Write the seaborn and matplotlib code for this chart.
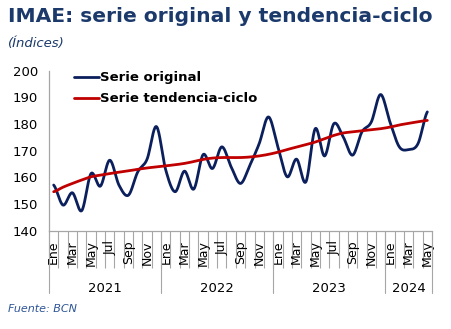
import numpy as np
import matplotlib
matplotlib.use("Agg")
import matplotlib.pyplot as plt
import seaborn as sns
from matplotlib.transforms import blended_transform_factory

# ---------------- data ----------------
months = ["Ene", "Feb", "Mar", "Abr", "May", "Jun",
          "Jul", "Ago", "Sep", "Oct", "Nov", "Dic"]
years = ["2021", "2022", "2023", "2024"]
months_per_year = [12, 12, 12, 5]

original = [157.1, 149.6, 154.2, 147.5, 161.4, 156.7, 166.4, 157.0, 153.3, 162.0, 166.8, 179.0,
            162.7, 154.6, 162.3, 155.6, 168.5, 163.3, 171.4, 163.9, 157.7, 164.5, 172.6, 182.6,
            171.4, 160.2, 166.8, 158.3, 178.2, 168.0, 180.1, 175.1, 168.3, 177.0, 180.7, 191.0,
            180.7, 171.4, 170.4, 172.6, 184.5]
trend = [154.6, 156.3, 157.7, 159.0, 160.2, 160.8, 161.4, 161.9, 162.4, 163.0, 163.5, 163.9,
         164.3, 164.7, 165.2, 165.9, 166.7, 167.2, 167.4, 167.4, 167.4, 167.6, 168.0, 168.6,
         169.4, 170.4, 171.3, 172.2, 173.2, 174.5, 175.7, 176.6, 177.0, 177.4, 177.8, 178.2,
         178.8, 179.6, 180.2, 180.8, 181.3]
yticks = [140, 150, 160, 170, 180, 190, 200]

title = "IMAE: serie original y tendencia-ciclo"
subtitle = "(Índices)"
source = "Fuente: BCN"
label_orig = "Serie original"
label_trend = "Serie tendencia-ciclo"

# ---------------- helpers ----------------
def smooth(vals, n=20):
    """Excel-like smoothed line (uniform Catmull-Rom) through the points."""
    y = np.asarray(vals, dtype=float)
    p = np.concatenate([[y[0]], y, [y[-1]]])
    xs, ys = [], []
    t = np.linspace(0, 1, n, endpoint=False)
    for i in range(len(y) - 1):
        p0, p1, p2, p3 = p[i], p[i + 1], p[i + 2], p[i + 3]
        seg = 0.5 * ((2 * p1) + (-p0 + p2) * t +
                     (2 * p0 - 5 * p1 + 4 * p2 - p3) * t ** 2 +
                     (-p0 + 3 * p1 - 3 * p2 + p3) * t ** 3)
        xs.extend(i + t)
        ys.extend(seg)
    xs.append(len(y) - 1)
    ys.append(y[-1])
    return np.array(xs), np.array(ys)

# ---------------- figure ----------------
sns.set_theme(style="white")
plt.rcParams['font.family'] = ['DejaVu Sans']

W, H = 451, 329
fig = plt.figure(figsize=(W / 100, H / 100), dpi=100)
ax_left, ax_right, ax_top, ax_bottom = 49, 432, 70.5, 230.7
ax = fig.add_axes([ax_left / W, (H - ax_bottom) / H,
                   (ax_right - ax_left) / W, (ax_bottom - ax_top) / H])

navy = "#0B1F5C"
red = "#C00000"
grey = "#A6A6A6"
title_col = "#1B3A6B"

xo, yo = smooth(original)
xt, yt = smooth(trend)
sns.lineplot(x=xo, y=yo, sort=False, estimator=None, color=navy, lw=2.0,
             ax=ax, label=label_orig)
sns.lineplot(x=xt, y=yt, sort=False, estimator=None, color=red, lw=2.0,
             ax=ax, label=label_trend)

n = len(original)
ax.set_xlim(-0.5, n - 0.5)
ax.set_ylim(140, 200)
ax.set_yticks(yticks)
ax.set_yticklabels([str(v) for v in yticks], fontsize=9.5, color="black")
ax.tick_params(axis="y", length=0, pad=8)

# category boundaries as major ticks, labels as minor ticks
ax.set_xticks(np.arange(-0.5, n, 1.0))
ax.set_xticklabels([])
ax.tick_params(axis="x", which="major", length=26.5, width=0.8, color=grey,
               direction="out", bottom=True)
lab_pos = list(range(0, n, 2))
ax.set_xticks(lab_pos, minor=True)
ax.set_xticklabels([months[i % 12] for i in lab_pos], minor=True,
                   rotation=90, fontsize=9, color="black")
ax.tick_params(axis="x", which="minor", length=0, pad=7, bottom=True)

for s in ["top", "right"]:
    ax.spines[s].set_visible(False)
for s in ["left", "bottom"]:
    ax.spines[s].set_color(grey)
    ax.spines[s].set_linewidth(0.9)

# year separators and labels
trans = blended_transform_factory(ax.transData, fig.transFigure)
start = 0
bounds = [-0.5]
for yr, cnt in zip(years, months_per_year):
    center = start + (cnt - 1) / 2
    fig.text(0, 0, yr, transform=trans, fontsize=9.5, color="black",
             ha="center", va="center").set_position((center, (H - 288) / H))
    start += cnt
    bounds.append(start - 0.5)
for b in bounds:
    ax.plot([b, b], [(H - ax_bottom) / H, (H - 293) / H], transform=trans,
            color=grey, lw=0.8, clip_on=False)

# legend
leg = ax.legend(loc="upper left", bbox_to_anchor=(0.065, 0.995), frameon=False,
                prop={"weight": "bold", "size": 9.5}, handlelength=1.9,
                handletextpad=0.1, labelspacing=0.62, borderpad=0,
                borderaxespad=0)
for t in leg.get_texts():
    t.set_color("black")

# titles
fig.text(8 / W, 1 - 17 / H, title, fontsize=14.6, fontweight="bold",
         color=title_col, ha="left", va="center")
fig.text(8 / W, 1 - 43 / H, subtitle, fontsize=9.5, style="italic",
         color=title_col, ha="left", va="center")
fig.text(8 / W, 1 - 309 / H, source, fontsize=8, style="italic",
         color="#2E5597", ha="left", va="center")

fig.savefig("out.png", dpi=100)
